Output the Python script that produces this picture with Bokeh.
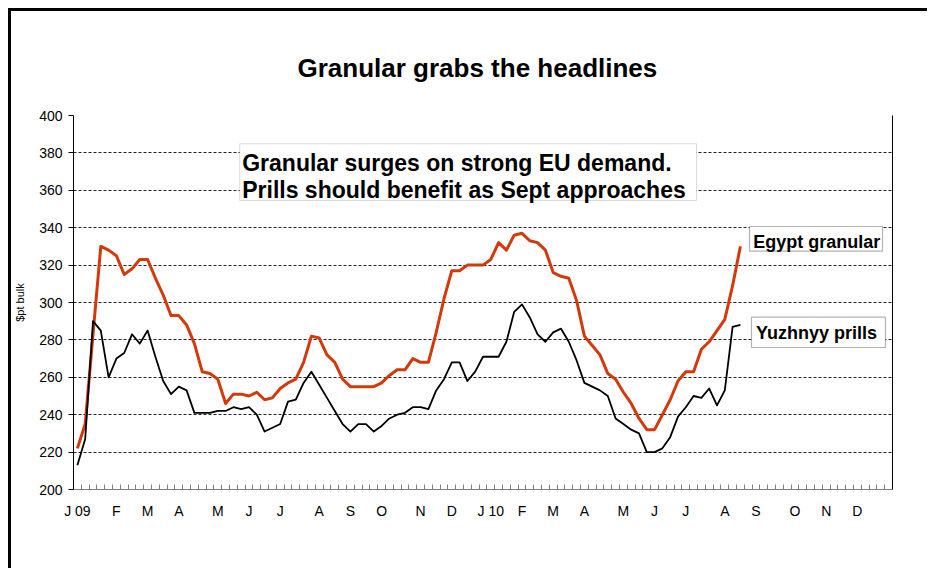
import pandas as pd
from bokeh.plotting import figure
from bokeh.models import (FixedTicker, Range1d, LinearAxis, BoxAnnotation, Label,
                          ColumnDataSource)
from bokeh.embed import file_html
from bokeh.resources import INLINE

# ---------------- data ----------------
week_start = "2009-01-01"
n_weeks = 105
weeks = pd.date_range(week_start, periods=n_weeks, freq="7D")
month_initials = ["J", "F", "M", "A", "M", "J", "J", "A", "S", "O", "N", "D"]

egypt_granular = [222, 235, 283, 330, 328, 325, 315, 318, 323, 323,
                  313, 304, 293, 293, 288, 278, 263, 262, 259, 246,
                  251, 251, 250, 252, 248, 249, 254, 257, 259, 268,
                  282, 281, 272, 268, 259, 255, 255, 255, 255, 257,
                  261, 264, 264, 270, 268, 268, 284, 302, 317, 317,
                  320, 320, 320, 323, 332, 328, 336, 337, 333, 332,
                  328, 316, 314, 313, 301, 282, 277, 272, 262, 259,
                  252, 246, 238, 232, 232, 240, 248, 258, 263, 263,
                  275, 279, 285, 291, 309, 330]

yuzhnyy_prills = [213, 227, 290, 285, 260, 270, 273, 283, 278, 285,
                  271, 258, 251, 255, 253, 241, 241, 241, 242, 242,
                  244, 243, 244, 240, 231, 233, 235, 247, 248, 257,
                  263, 256, 249, 242, 235, 231, 235, 235, 231, 234,
                  238, 240, 241, 244, 244, 243, 253, 259, 268, 268,
                  258, 263, 271, 271, 271, 279, 295, 299, 292, 283,
                  279, 284, 286, 279, 269, 257, 255, 253, 250, 238,
                  235, 232, 230, 220, 220, 222, 228, 239, 244, 250,
                  249, 254, 245, 253, 287, 288]

y_ticks = list(range(200, 401, 20))

# month labels at first week of each month
label_pos = []
label_text = {}
prev = None
for i, d in enumerate(weeks):
    key = (d.year, d.month)
    if key != prev:
        prev = key
        lab = month_initials[d.month - 1]
        if d.month == 1:
            lab = f"J {d.year % 100:02d}"
        label_pos.append(i)
        label_text[i] = lab

FONT = "Liberation Sans"
RED = "#D23A0B"

p = figure(width=919, height=560,
           x_range=Range1d(-0.5, n_weeks - 0.5), y_range=Range1d(200, 400),
           output_backend="svg", toolbar_location=None,
           min_border_left=62, min_border_right=38,
           min_border_top=104, min_border_bottom=82)
p.styles = {"border-left": "3px solid #000", "border-top": "3px solid #000",
            "margin-left": "8px", "margin-top": "8px"}
p.outline_line_color = None
p.background_fill_color = "white"
p.border_fill_color = "white"

p.title.text = "Granular grabs the headlines"
p.title.align = "left"
p.title.offset = 224
p.title.text_font = FONT
p.title.text_font_size = "26px"
p.title.text_font_style = "bold"
p.title.text_color = "black"
p.title.standoff = 66

p.xgrid.visible = False
p.ygrid.ticker = FixedTicker(ticks=y_ticks[1:])
p.ygrid.grid_line_color = "#222222"
p.ygrid.grid_line_dash = "3 2"
p.ygrid.grid_line_width = 1

# y axis
p.yaxis.ticker = FixedTicker(ticks=y_ticks)
p.yaxis.major_tick_out = 5
p.yaxis.major_tick_in = 0
p.yaxis.minor_tick_line_color = None
p.yaxis.axis_line_color = "black"
p.yaxis.major_tick_line_color = "black"
p.yaxis.major_label_text_font = FONT
p.yaxis.major_label_text_font_size = "14px"
p.yaxis.major_label_text_color = "black"
p.yaxis.major_label_standoff = 6
p.yaxis.axis_label = "$pt bulk"
p.yaxis.axis_label_text_font = FONT
p.yaxis.axis_label_text_font_size = "11px"
p.yaxis.axis_label_text_font_style = "normal"
p.yaxis.axis_label_text_color = "black"
p.yaxis.axis_label_standoff = 10

# x axis
p.xaxis.ticker = FixedTicker(ticks=label_pos,
                             minor_ticks=[i - 0.5 for i in range(n_weeks + 1)])
p.xaxis.major_label_overrides = label_text
p.xaxis.major_tick_line_color = None
p.xaxis.minor_tick_in = 5
p.xaxis.minor_tick_out = 0
p.xaxis.minor_tick_line_color = "#808080"
p.xaxis.axis_line_color = "#808080"
p.xaxis.major_label_text_font = FONT
p.xaxis.major_label_text_font_size = "14px"
p.xaxis.major_label_text_color = "black"
p.xaxis.major_label_standoff = 7

right = LinearAxis(ticker=FixedTicker(ticks=[]), axis_line_color="black",
                   major_label_text_font_size="0px",
                   major_tick_line_color=None, minor_tick_line_color=None)
p.add_layout(right, "right")

src_e = ColumnDataSource(dict(x=list(range(len(egypt_granular))), y=egypt_granular))
src_y = ColumnDataSource(dict(x=list(range(len(yuzhnyy_prills))), y=yuzhnyy_prills))
p.line("x", "y", source=src_e, line_color=RED, line_width=3, line_join="round")
p.line("x", "y", source=src_y, line_color="black", line_width=1.8, line_join="round")

# boxes
p.add_layout(BoxAnnotation(left=20.82, right=79.37, top=384.87, bottom=354.55,
                           fill_color="white", fill_alpha=1,
                           line_color="#808080", line_width=1))
p.add_layout(BoxAnnotation(left=86.17, right=103.22, top=340.64, bottom=327.43,
                           fill_color="white", fill_alpha=1,
                           line_color="black", line_width=1.2))
p.add_layout(BoxAnnotation(left=86.42, right=103.6, top=292.14, bottom=275.94,
                           fill_color="white", fill_alpha=1,
                           line_color="black", line_width=1.2))

def lab(x, y, text, size, align="left"):
    p.add_layout(Label(x=x, y=y, text=text, text_font=FONT, text_font_size=size,
                       text_font_style="bold", text_color="black",
                       text_align=align, text_baseline="alphabetic"))

lab(21.13, 374.6, "Granular surges on strong EU demand.", "23px")
lab(21.13, 360.3, "Prills should benefit as Sept approaches", "23px")
lab(86.64, 332.6, "Egypt granular", "18px")
lab(87.0, 283.8, "Yuzhnyy prills", "18px")

open("out.html", "w").write(file_html(p, INLINE))
